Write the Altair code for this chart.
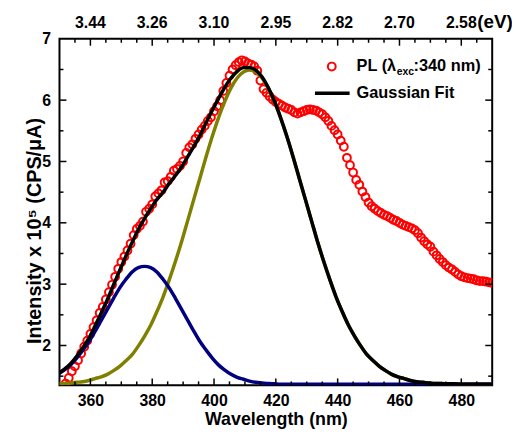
import altair as alt
import pandas as pd

# ---------------- data ----------------
pl_wavelength = list(range(352, 491))
pl_intensity = [
    1.38, 1.47, 1.58, 1.66, 1.76, 1.87, 1.98, 2.08,            # 352-359
    2.19, 2.30, 2.41, 2.53, 2.63, 2.75, 2.87, 2.99, 3.12, 3.25,  # 360-369
    3.36, 3.45, 3.55, 3.66, 3.80, 3.90, 3.95, 4.02, 4.18, 4.23,  # 370-379
    4.30, 4.43, 4.48, 4.53, 4.66, 4.68, 4.75, 4.85, 4.88, 4.93,  # 380-389
    5.00, 5.14, 5.23, 5.28, 5.37, 5.44, 5.52, 5.58, 5.66, 5.72,  # 390-399
    5.82, 5.90, 6.00, 6.15, 6.28, 6.40, 6.50, 6.57, 6.62, 6.65,  # 400-409
    6.63, 6.60, 6.58, 6.55, 6.48, 6.32, 6.18, 6.12, 6.06, 6.01,  # 410-419
    5.97, 5.94, 5.91, 5.88, 5.86, 5.84, 5.80, 5.78, 5.80, 5.82,  # 420-429
    5.84, 5.85, 5.84, 5.83, 5.80, 5.77, 5.72, 5.66, 5.58, 5.51,  # 430-439
    5.44, 5.34, 5.24, 5.06, 4.94, 4.82, 4.70, 4.62, 4.51, 4.42,  # 440-449
    4.33, 4.27, 4.23, 4.19, 4.16, 4.13, 4.11, 4.08, 4.05, 4.03,  # 450-459
    4.00, 3.97, 3.95, 3.93, 3.91, 3.88, 3.83, 3.76, 3.70, 3.65,  # 460-469
    3.61, 3.53, 3.47, 3.41, 3.36, 3.31, 3.27, 3.24, 3.20, 3.16,  # 470-479
    3.13, 3.11, 3.10, 3.09, 3.08, 3.06, 3.05, 3.05, 3.04, 3.03,  # 480-489
    3.02,                                                        # 490
]

fit_wavelength = [349.5 + 2 * k for k in range(72)]
fit_peak1 = [
    1.53, 1.60, 1.68, 1.79, 1.92, 2.06, 2.23, 2.41, 2.59, 2.77,
    2.94, 3.08, 3.20, 3.27, 3.29, 3.27, 3.20, 3.08, 2.94, 2.77,
    2.59, 2.41, 2.23, 2.06, 1.92, 1.79, 1.68, 1.60, 1.53, 1.48,
    1.45, 1.42, 1.40, 1.39, 1.38, 1.375,
    1.37, 1.37, 1.37, 1.37, 1.37, 1.37, 1.37, 1.37, 1.37, 1.37,
    1.37, 1.37, 1.37, 1.37, 1.37, 1.37, 1.37, 1.37, 1.37, 1.37,
    1.37, 1.37, 1.37, 1.37, 1.37, 1.37, 1.37, 1.37, 1.37, 1.37,
    1.37, 1.37, 1.37, 1.37, 1.37, 1.37,
]
fit_peak2 = [
    1.38, 1.38, 1.39, 1.40, 1.41, 1.43, 1.46, 1.49, 1.53, 1.59,
    1.66, 1.75, 1.85, 1.99, 2.15, 2.33, 2.55, 2.79, 3.07, 3.37,
    3.69, 4.04, 4.39, 4.74, 5.09, 5.42, 5.72, 5.98, 6.20, 6.36,
    6.46, 6.49, 6.46, 6.36, 6.20, 5.98, 5.72, 5.42, 5.09, 4.74,
    4.39, 4.04, 3.69, 3.37, 3.07, 2.79, 2.55, 2.33, 2.15, 1.99,
    1.85, 1.75, 1.66, 1.59, 1.53, 1.49, 1.46, 1.43, 1.41, 1.40,
    1.39, 1.38, 1.38, 1.375, 1.375, 1.37, 1.37, 1.37, 1.37, 1.37,
    1.37, 1.37,
]
fit_total = [
    1.54, 1.61, 1.70, 1.82, 1.96, 2.12, 2.32, 2.53, 2.75, 2.99,
    3.23, 3.46, 3.68, 3.89, 4.07, 4.23, 4.38, 4.50, 4.64, 4.77,
    4.91, 5.08, 5.25, 5.43, 5.64, 5.84, 6.03, 6.21, 6.36, 6.47,
    6.53, 6.53, 6.49, 6.38, 6.21, 5.99, 5.72, 5.42, 5.09, 4.74,
    4.39, 4.04, 3.69, 3.37, 3.07, 2.79, 2.55, 2.33, 2.15, 1.99,
    1.85, 1.75, 1.66, 1.59, 1.53, 1.49, 1.46, 1.43, 1.41, 1.40,
    1.39, 1.38, 1.38, 1.375, 1.375, 1.37, 1.37, 1.37, 1.37, 1.37,
    1.37, 1.37,
]

x_major = [360, 380, 400, 420, 440, 460, 480]
x_minor = [355, 365, 370, 375, 385, 390, 395, 405, 410, 415, 425, 430,
           435, 445, 450, 455, 465, 470, 475, 485]
ev_labels = ["3.44", "3.26", "3.10", "2.95", "2.82", "2.70", "2.58"]
y_major = [2, 3, 4, 5, 6, 7]
y_minor = [1.5, 2.5, 3.5, 4.5, 5.5, 6.5]

# ---------------- chart ----------------
W, H = 437, 350
FONT = "Liberation Sans"
xs = alt.Scale(domain=[350, 490], nice=False, zero=False)
ys = alt.Scale(domain=[1.35, 7], nice=False, zero=False)

AX = alt.Axis(
    values=x_major, title="Wavelength (nm)", domain=False, ticks=False,
    tickSize=0, grid=False, labelFont=FONT, labelFontSize=16,
    labelFontWeight="bold", labelColor="black", labelPadding=7,
    titleFont=FONT, titleFontSize=18, titleFontWeight="bold",
    titleColor="black", titlePadding=3)
AY = alt.Axis(
    values=y_major, title=None, domain=False, ticks=False,
    tickSize=0, grid=False, labelFont=FONT, labelFontSize=16,
    labelFontWeight="bold", labelColor="black", labelPadding=9)

pl_df = pd.DataFrame({"wl": pl_wavelength, "I": pl_intensity})
fit_df = pd.DataFrame({"wl": fit_wavelength, "p1": fit_peak1,
                       "p2": fit_peak2, "tot": fit_total})

points = alt.Chart(pl_df).mark_point(
    shape="circle", filled=False, color="#ff0000", strokeWidth=2, size=62,
    opacity=1, clip=True
).encode(
    x=alt.X("wl:Q", scale=xs, axis=AX),
    y=alt.Y("I:Q", scale=ys, axis=AY),
)

def fit_line(col, color):
    return alt.Chart(fit_df).mark_line(
        color=color, strokeWidth=3.5, clip=True, interpolate="monotone"
    ).encode(x=alt.X("wl:Q", scale=xs, axis=AX),
             y=alt.Y(f"{col}:Q", scale=ys, axis=AY))

olive = fit_line("p2", "#808000")
blue = fit_line("p1", "#000080")
total = fit_line("tot", "#000000")

def xticks(vals, length, top):
    df = pd.DataFrame({"v": vals})
    return alt.Chart(df).mark_rule(color="black", strokeWidth=1.5).encode(
        x=alt.X("v:Q", scale=xs, axis=AX),
        y=alt.value(0 if top else H),
        y2=alt.value(length if top else H - length),
    )

def yticks(vals, length, right):
    df = pd.DataFrame({"v": vals})
    return alt.Chart(df).mark_rule(color="black", strokeWidth=1.5).encode(
        y=alt.Y("v:Q", scale=ys, axis=AY),
        x=alt.value(W if right else 0),
        x2=alt.value(W - length if right else length),
    )

ticks = [xticks(x_major, 7, False), xticks(x_minor, 4, False),
         xticks(x_major, 7, True), xticks(x_minor, 4, True),
         yticks(y_major[:-1], 7, False), yticks(y_minor, 4, False),
         yticks(y_major[:-1], 7, True), yticks(y_minor, 4, True)]

top_df = pd.DataFrame({"v": x_major, "lab": ev_labels})
top_labels = alt.Chart(top_df).mark_text(
    font=FONT, fontSize=16, fontWeight="bold", color="black",
    baseline="middle", align="center"
).encode(x=alt.X("v:Q", scale=xs, axis=AX), y=alt.value(-16), text="lab:N")

def label(txt, x, y, size=16.5, align="left", angle=0):
    return alt.Chart(pd.DataFrame({"t": [txt]})).mark_text(
        font=FONT, fontSize=size, fontWeight="bold", color="black",
        align=align, baseline="middle", angle=angle
    ).encode(x=alt.value(x), y=alt.value(y), text="t:N")

ev_unit = label("(eV)", 422, -17, size=19)
y_title = label("Intensity x 10\u2075 (CPS/\u03bcA)", -25, 194, size=20,
                align="center", angle=270)

leg_pt = alt.Chart(pd.DataFrame({"t": ["PL"]})).mark_point(
    shape="circle", filled=False, color="#ff0000", strokeWidth=2, size=62,
    opacity=1
).encode(x=alt.value(275), y=alt.value(28))
leg1a = label("PL (\u03bb", 300, 28)
leg1b = label("exc", 340.5, 34, size=10.5)
leg1c = label(":340 nm)", 357.5, 28)
leg_line = alt.Chart(pd.DataFrame({"t": ["fit"]})).mark_rule(
    color="black", strokeWidth=3.5
).encode(x=alt.value(258), x2=alt.value(293), y=alt.value(55))
leg2 = label("Gaussian Fit", 300, 55)

chart = alt.layer(
    points, olive, blue, total, *ticks, top_labels, ev_unit, y_title,
    leg_pt, leg1a, leg1b, leg1c, leg_line, leg2
).properties(
    width=W, height=H,
    autosize=alt.AutoSizeParams(type="none"),
    padding={"left": 52, "top": 29, "right": 20, "bottom": 46},
    background="white",
).configure_view(stroke="black", strokeWidth=2)

chart.save("out.html", embed_options={"renderer": "svg", "actions": False})
